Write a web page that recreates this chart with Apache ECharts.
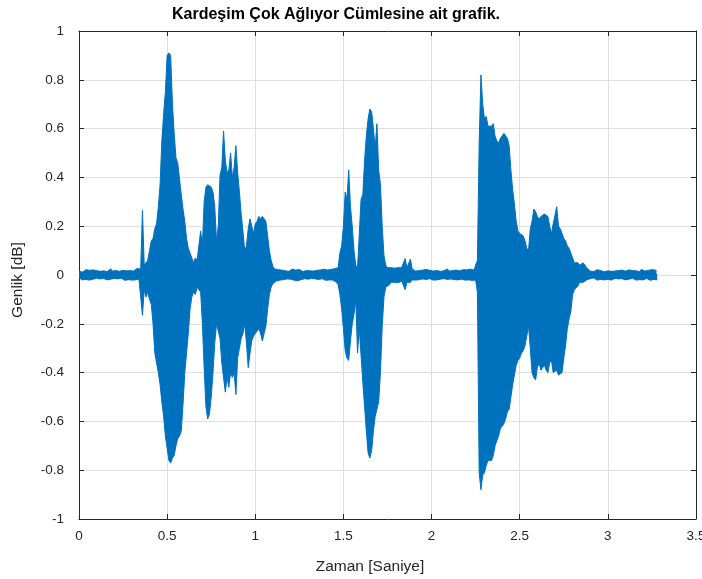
<!DOCTYPE html>
<html>
<head>
<meta charset="utf-8">
<title>Kardeşim Çok Ağlıyor</title>
<script src="https://cdn.jsdelivr.net/npm/echarts@6/dist/echarts.min.js"></script>
<style>
  html, body { margin: 0; padding: 0; background: #fff; }
  #chart { width: 702px; height: 579px; }
</style>
</head>
<body>
<div id="chart"></div>
<script>
// envelope of the waveform (max / min per 10 ms)
const STEP = 0.01

// 0.00 - 0.35 s : background noise
const leadUp = [0.015, 0.02, 0.012, 0.018, 0.022, 0.014, 0.019, 0.016, 0.021, 0.013, 0.018, 0.024, 0.015, 0.02, 0.017, 0.022, 0.014, 0.019, 0.025, 0.016, 0.02, 0.018, 0.023, 0.015, 0.021, 0.019, 0.026, 0.017, 0.022, 0.018, 0.024, 0.016, 0.021, 0.027, 0.019, 0.024]
const leadLow = [-0.012, -0.017, -0.02, -0.013, -0.018, -0.015, -0.021, -0.014, -0.017, -0.019, -0.013, -0.018, -0.016, -0.022, -0.014, -0.018, -0.02, -0.015, -0.017, -0.021, -0.014, -0.019, -0.016, -0.02, -0.013, -0.018, -0.022, -0.015, -0.019, -0.017, -0.021, -0.014, -0.02, -0.018, -0.016, -0.02]

// 0.36 - 1.12 s : "Kardeşim"
const word1Up = [0.265, 0.04, 0.05, 0.06, 0.10, 0.14, 0.15, 0.19, 0.21, 0.28,
  0.37, 0.55, 0.66, 0.75, 0.90, 0.91, 0.90, 0.70, 0.58, 0.48,
  0.46, 0.46, 0.33, 0.27, 0.22, 0.15, 0.11, 0.09, 0.07, 0.05,
  0.07, 0.06, 0.06, 0.18, 0.12, 0.30, 0.36, 0.37, 0.37, 0.36,
  0.34, 0.28, 0.14, 0.20, 0.41, 0.44, 0.59, 0.47, 0.42, 0.43,
  0.50, 0.40, 0.44, 0.53, 0.42, 0.34, 0.25, 0.18, 0.10, 0.12,
  0.19, 0.23, 0.20, 0.17, 0.21, 0.22, 0.24, 0.23, 0.24, 0.24,
  0.22, 0.16, 0.10, 0.06, 0.035, 0.025, 0.02]
const word1Low = [-0.165, -0.06, -0.09, -0.07, -0.10, -0.12, -0.20, -0.32, -0.36, -0.40,
  -0.45, -0.52, -0.58, -0.66, -0.71, -0.76, -0.77, -0.75, -0.74, -0.70,
  -0.67, -0.66, -0.64, -0.53, -0.40, -0.32, -0.24, -0.14, -0.09, -0.07,
  -0.08, -0.05, -0.06, -0.07, -0.20, -0.38, -0.54, -0.59, -0.57, -0.50,
  -0.40, -0.28, -0.20, -0.20, -0.26, -0.36, -0.42, -0.48, -0.42, -0.46,
  -0.40, -0.42, -0.40, -0.49, -0.34, -0.30, -0.26, -0.24, -0.20, -0.28,
  -0.38, -0.32, -0.27, -0.25, -0.24, -0.23, -0.22, -0.24, -0.27, -0.24,
  -0.21, -0.14, -0.08, -0.05, -0.035, -0.03, -0.025]

// 1.13 - 1.46 s : pause
const gap1Up = [0.022, 0.016, 0.02, 0.025, 0.017, 0.021, 0.015, 0.019, 0.024, 0.018, 0.02, 0.016, 0.023, 0.019, 0.014, 0.021, 0.018, 0.025, 0.017, 0.02, 0.016, 0.022, 0.019, 0.015, 0.021, 0.018, 0.024, 0.016, 0.02, 0.017, 0.023, 0.019, 0.026, 0.022]
const gap1Low = [-0.018, -0.021, -0.015, -0.019, -0.023, -0.016, -0.02, -0.017, -0.014, -0.021, -0.018, -0.024, -0.016, -0.019, -0.022, -0.015, -0.02, -0.017, -0.021, -0.014, -0.019, -0.016, -0.023, -0.018, -0.02, -0.015, -0.019, -0.022, -0.017, -0.02, -0.016, -0.021, -0.024, -0.03]

// 1.47 - 1.89 s : "Çok"
const word2Up = [0.03, 0.09, 0.12, 0.20, 0.34, 0.31, 0.43, 0.28, 0.20, 0.10,
  0.04, 0.03, 0.17, 0.31, 0.33, 0.47, 0.57, 0.64, 0.68, 0.67,
  0.60, 0.52, 0.62, 0.43, 0.37, 0.20, 0.08, 0.04, 0.03, 0.035,
  0.03, 0.035, 0.028, 0.032, 0.03, 0.025, 0.03, 0.035, 0.067, 0.03,
  0.028, 0.065, 0.025]
const word2Low = [-0.04, -0.08, -0.14, -0.22, -0.31, -0.34, -0.35, -0.27, -0.20, -0.16,
  -0.10, -0.32, -0.22, -0.33, -0.44, -0.54, -0.64, -0.73, -0.75, -0.72,
  -0.64, -0.58, -0.55, -0.52, -0.40, -0.21, -0.09, -0.05, -0.045, -0.04,
  -0.03, -0.035, -0.03, -0.028, -0.032, -0.03, -0.025, -0.03, -0.06, -0.03,
  -0.025, -0.03, -0.02]

// 1.90 - 2.25 s : pause
const gap2Up = [0.02, 0.016, 0.022, 0.018, 0.014, 0.02, 0.017, 0.023, 0.015, 0.019, 0.021, 0.016, 0.024, 0.018, 0.02, 0.015, 0.022, 0.017, 0.019, 0.025, 0.016, 0.021, 0.018, 0.014, 0.02, 0.023, 0.017, 0.019, 0.022, 0.016, 0.021, 0.018, 0.024, 0.017, 0.02, 0.022]
const gap2Low = [-0.017, -0.021, -0.014, -0.019, -0.022, -0.016, -0.02, -0.018, -0.023, -0.015, -0.019, -0.021, -0.016, -0.02, -0.024, -0.017, -0.019, -0.015, -0.022, -0.018, -0.02, -0.016, -0.021, -0.019, -0.014, -0.02, -0.023, -0.017, -0.019, -0.021, -0.016, -0.02, -0.018, -0.022, -0.019, -0.021]

// 2.26 - 2.89 s : "Ağlıyor"
const word3Up = [0.06, 0.54, 0.82, 0.70, 0.64, 0.65, 0.61, 0.61, 0.61, 0.62,
  0.57, 0.55, 0.54, 0.56, 0.57, 0.58, 0.58, 0.56, 0.53, 0.43,
  0.35, 0.29, 0.22, 0.18, 0.17, 0.17, 0.16, 0.14, 0.11, 0.10,
  0.19, 0.22, 0.27, 0.26, 0.24, 0.23, 0.24, 0.24, 0.25, 0.25,
  0.24, 0.20, 0.17, 0.21, 0.21, 0.28, 0.20, 0.19, 0.17, 0.15,
  0.14, 0.12, 0.11, 0.09, 0.07, 0.05, 0.055, 0.05, 0.04, 0.035,
  0.05, 0.045, 0.03, 0.025]
const word3Low = [-0.07, -0.81, -0.88, -0.82, -0.81, -0.78, -0.76, -0.76, -0.76, -0.74,
  -0.70, -0.68, -0.66, -0.63, -0.62, -0.61, -0.59, -0.56, -0.55, -0.50,
  -0.45, -0.41, -0.37, -0.35, -0.34, -0.32, -0.31, -0.29, -0.25, -0.21,
  -0.30, -0.40, -0.42, -0.43, -0.38, -0.36, -0.39, -0.38, -0.37, -0.39,
  -0.40, -0.36, -0.35, -0.40, -0.40, -0.39, -0.41, -0.41, -0.40, -0.34,
  -0.29, -0.22, -0.18, -0.15, -0.08, -0.06, -0.055, -0.045, -0.03, -0.025,
  -0.03, -0.03, -0.02, -0.02]

// 2.90 - 3.28 s : background noise
const tailUp = [0.016, 0.02, 0.014, 0.019, 0.022, 0.015, 0.018, 0.021, 0.013, 0.02, 0.017, 0.023, 0.015, 0.019, 0.016, 0.022, 0.018, 0.014, 0.02, 0.024, 0.016, 0.019, 0.021, 0.015, 0.018, 0.022, 0.017, 0.02, 0.014, 0.023, 0.018, 0.016, 0.021, 0.019, 0.015, 0.022, 0.018, 0.02, 0.014]
const tailLow = [-0.015, -0.019, -0.012, -0.017, -0.021, -0.014, -0.018, -0.016, -0.02, -0.013, -0.018, -0.015, -0.021, -0.017, -0.014, -0.019, -0.016, -0.022, -0.015, -0.018, -0.02, -0.014, -0.017, -0.019, -0.013, -0.018, -0.021, -0.016, -0.019, -0.015, -0.02, -0.017, -0.014, -0.019, -0.022, -0.016, -0.018, -0.015, -0.02]

const xTicks = { min: 0, max: 3.5, interval: 0.5 }
const yTicks = { min: -1, max: 1, interval: 0.2 }

const FONT = '"Liberation Sans", Arial, Helvetica, sans-serif'
const BLUE = '#0072BD'
const AXIS = '#262626'

const upper = [].concat(leadUp, word1Up, gap1Up, word2Up, gap2Up, word3Up, tailUp)
const lower = [].concat(leadLow, word1Low, gap1Low, word2Low, gap2Low, word3Low, tailLow)
const toPoints = arr => arr.map((v, i) => [+(i * STEP).toFixed(2), v])

const baseAxis = {
  axisLine: { onZero: false, lineStyle: { color: AXIS, width: 1 } },
  axisTick: { inside: true, length: 5, lineStyle: { color: AXIS } },
}

const chart = echarts.init(document.getElementById('chart'))
chart.setOption({
  animation: false,
  backgroundColor: '#fff',
  title: {
    text: 'Kardeşim Çok Ağlıyor Cümlesine ait grafik.',
    left: 331,
    textAlign: 'center',
    top: 2,
    textStyle: { fontFamily: FONT, fontSize: 16, fontWeight: 'bold', color: '#000' },
  },
  grid: { left: 79, right: 6, top: 31, bottom: 60, outerBoundsMode: 'none', containLabel: false },
  xAxis: [
    {
      type: 'value',
      ...xTicks,
      position: 'bottom',
      ...baseAxis,
      axisLabel: { color: AXIS, fontSize: 13.5, fontFamily: FONT, margin: 10 },
      splitLine: { show: true, lineStyle: { color: '#dfdfdf' } },
      name: 'Zaman [Saniye]',
      nameLocation: 'middle',
      nameGap: 40,
      nameTextStyle: { color: AXIS, fontSize: 15.5, fontFamily: FONT, padding: [0, 35, 0, 0] },
    },
    {
      type: 'value',
      ...xTicks,
      position: 'top',
      ...baseAxis,
      axisLabel: { show: false },
      splitLine: { show: false },
    },
  ],
  yAxis: [
    {
      type: 'value',
      ...yTicks,
      position: 'left',
      ...baseAxis,
      axisLabel: { color: AXIS, fontSize: 13.5, fontFamily: FONT, margin: 15 },
      splitLine: { show: true, lineStyle: { color: '#dfdfdf' } },
      name: 'Genlik [dB]',
      nameLocation: 'middle',
      nameGap: 53,
      nameTextStyle: { color: AXIS, fontSize: 15.5, fontFamily: FONT, padding: [0, 10, 0, 0] },
    },
    {
      type: 'value',
      ...yTicks,
      position: 'right',
      ...baseAxis,
      axisLabel: { show: false },
      splitLine: { show: false },
    },
  ],
  series: [
    {
      type: 'line',
      data: toPoints(upper),
      showSymbol: false,
      symbol: 'none',
      lineStyle: { color: BLUE, width: 1 },
      areaStyle: { color: BLUE, opacity: 1, origin: 'auto' },
    },
    {
      type: 'line',
      data: toPoints(lower),
      showSymbol: false,
      symbol: 'none',
      lineStyle: { color: BLUE, width: 1 },
      areaStyle: { color: BLUE, opacity: 1, origin: 'auto' },
    },
  ],
})
</script>
</body>
</html>
